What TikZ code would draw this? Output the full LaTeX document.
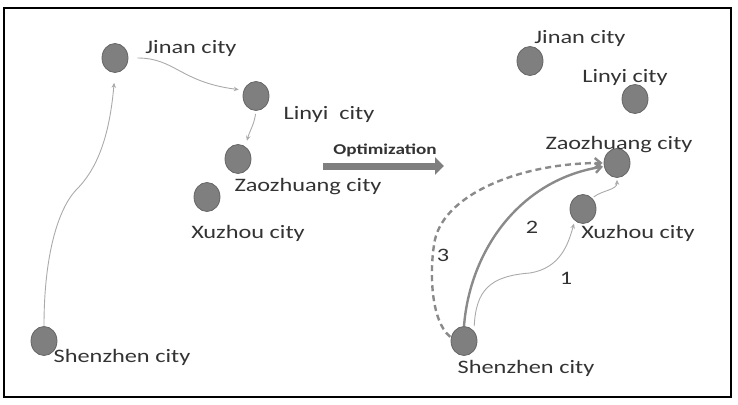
\documentclass[tikz,border=0pt]{standalone}
\usepackage{fontspec}
\setmainfont[FakeStretch=1.28]{Carlito}
\usetikzlibrary{arrows.meta,shapes.geometric}
\definecolor{cityfill}{HTML}{7F7F7F}
\definecolor{cityedge}{HTML}{666666}
\definecolor{txt}{HTML}{333333}
\definecolor{thinedge}{HTML}{AAAAAA}
\definecolor{routeedge}{HTML}{8A8A8A}
\tikzset{
  city/.style={ellipse, fill=cityfill, draw=cityedge, line width=0.8pt, minimum width=26pt, minimum height=29pt, inner sep=0pt},
  lbl/.style={text=txt, inner sep=0pt, font=\fontsize{19}{22}\selectfont},
  numlbl/.style={text=txt, inner sep=0pt, font=\fontsize{19}{22}\selectfont},
  thinarrow/.style={draw=thinedge, line width=0.9pt, -{Stealth[length=5pt,width=4.5pt]}},
  routetwo/.style={draw=routeedge, line width=2.4pt, -{Straight Barb[length=6pt,width=10pt]}},
  routethree/.style={draw=routeedge, line width=2.4pt, dash pattern=on 6pt off 4pt, -{Straight Barb[length=6pt,width=10pt]}},
}
\begin{document}
\begin{tikzpicture}[x=1pt,y=-1pt]
\useasboundingbox (0,0) rectangle (738,404);
\draw[line width=1.6pt, black] (4,8) rectangle (731,397);

% left side
\node[city] (jn1) at (115,58) {};
\node[city] (ly1) at (256,96) {};
\node[city] (zz1) at (238,159) {};
\node[city] (xz1) at (207,197) {};
\node[city] (sz1) at (44,341) {};
\node[lbl] (jn1l) at (191,48) {Jinan city};
\node[lbl] (ly1l) at (329,114) {Linyi\ \ city};
\node[lbl] (zz1l) at (308,187) {Zaozhuang city};
\node[lbl] (xz1l) at (248,233) {Xuzhou city};
\node[lbl] (sz1l) at (122,357) {Shenzhen city};

\draw[thinarrow, shorten >=10pt] (sz1.north) .. controls (44,250) and (60,205) .. (78,188) .. controls (100,165) and (110,130) .. (jn1.south);
\draw[thinarrow, shorten <=9pt, shorten >=5pt] (jn1.east) .. controls (175,58) and (180,82) .. (ly1.155);
\draw[thinarrow, shorten <=3pt, shorten >=6pt] (ly1.south) .. controls (254,125) and (250,130) .. (zz1.60);

% optimization arrow
\coordinate (oa) at (323,166);
\coordinate (ob) at (444,166);
\draw[draw=cityfill, line width=7pt, -{Triangle[length=9pt,width=17pt]}] (oa) -- (ob);
\node[text=txt, inner sep=0pt, font=\fontsize{15}{17}\selectfont\bfseries] (optl) at (385,150) {Optimization};

% right side
\node[city] (jn2) at (530,61) {};
\node[city] (ly2) at (635,99) {};
\node[city] (zz2) at (617,163) {};
\node[city] (xz2) at (583,209) {};
\node[city] (sz2) at (464,341) {};
\node[lbl] (jn2l) at (580,38) {Jinan city};
\node[lbl] (ly2l) at (625,77) {Linyi city};
\node[lbl] (zz2l) at (619,145) {Zaozhuang city};
\node[lbl] (xz2l) at (638,233) {Xuzhou city};
\node[lbl] (sz2l) at (526,368) {Shenzhen city};

\draw[thinarrow, shorten <=2pt, shorten >=2pt] (xz2.50) .. controls (603,190) and (617,190) .. (zz2.south);
\draw[thinarrow, shorten <=5pt, shorten >=3pt] (sz2.45) .. controls (476,290) and (490,276) .. (530,273) .. controls (560,268) and (568,245) .. (xz2.235);
\draw[routetwo, shorten >=1pt] (sz2.north) .. controls (470,250) and (520,180) .. (zz2.195);
\draw[routethree, shorten <=1pt, shorten >=1pt] (sz2.165) .. controls (430,320) and (430,270) .. (434,245) .. controls (440,195) and (520,163) .. (zz2.180);

\node[numlbl] (n1) at (566,278) {1};
\node[numlbl] (n2) at (532,227) {2};
\node[numlbl] (n3) at (443,255) {3};
\end{tikzpicture}
\end{document}
